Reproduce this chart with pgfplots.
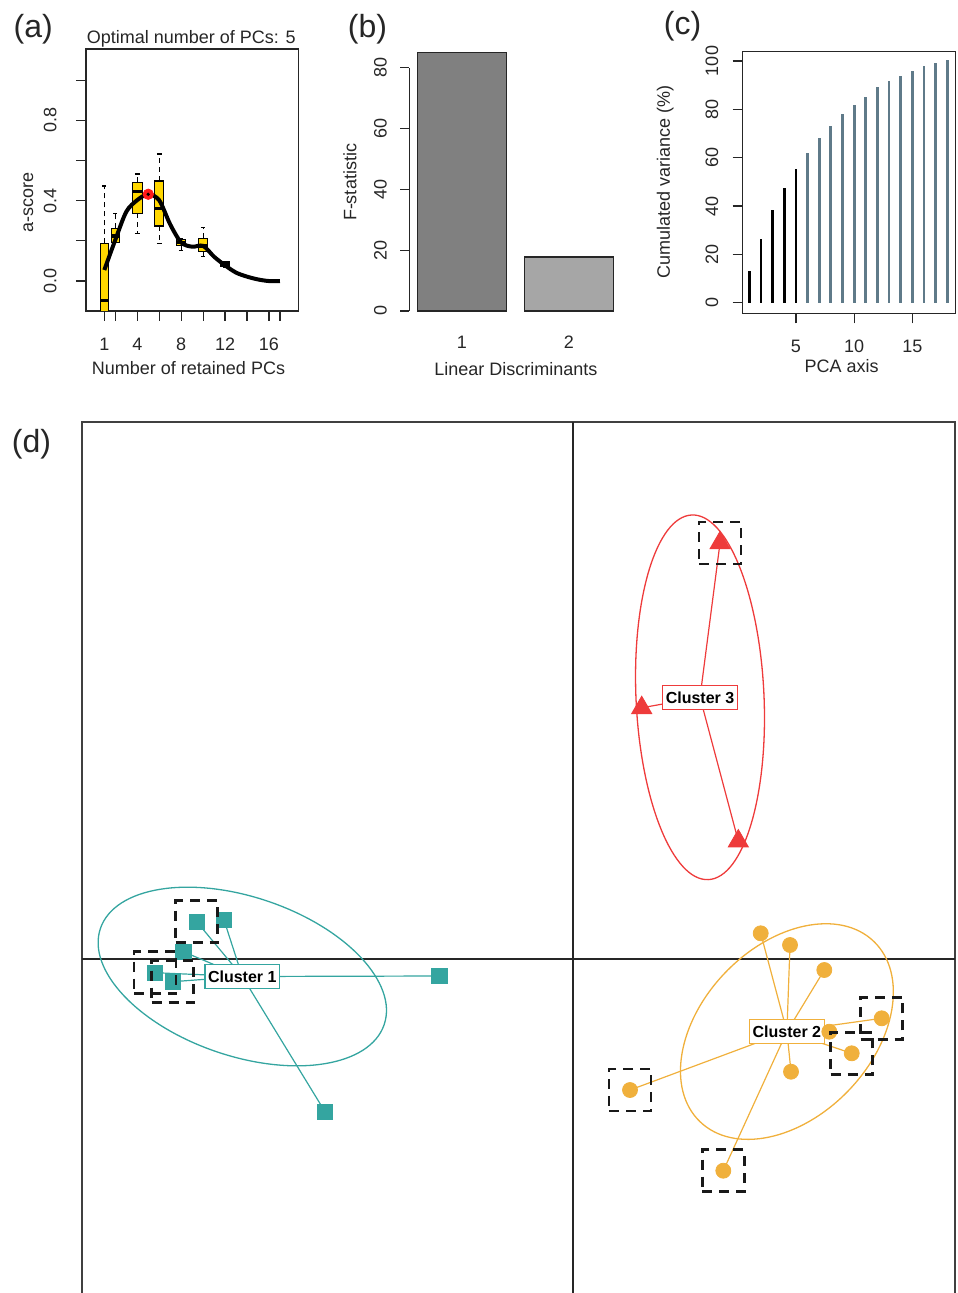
\documentclass[border=0pt]{standalone}
\usepackage{pgfplots}
\pgfplotsset{compat=1.18}
\usepgfplotslibrary{statistics}
\usepackage{fontspec}
\setmainfont{Liberation Sans}
\definecolor{boxgold}{HTML}{FFD700}
\definecolor{cteal}{RGB}{52,165,160}
\definecolor{corange}{RGB}{240,176,60}
\definecolor{cred}{RGB}{238,59,59}
\definecolor{slate}{RGB}{95,122,137}
\definecolor{barA}{RGB}{128,128,128}
\definecolor{barB}{RGB}{166,166,166}
\newcommand{\lab}{\fontsize{9}{10.8}\selectfont}
\newcommand{\pan}{\fontsize{16}{19}\selectfont}
\newcommand{\clu}{\bfseries\fontsize{8}{9.6}\selectfont}

\begin{document}
\begin{tikzpicture}
\path[use as bounding box] (0pt,0pt) rectangle (478.5pt,-646.5pt);

% panel letters
\node[font=\pan, text=black!85] at (16.6pt,-14.6pt) {(a)};
\node[font=\pan, text=black!85] at (183.75pt,-14.6pt) {(b)};
\node[font=\pan, text=black!85] at (341.25pt,-13.35pt) {(c)};
\node[font=\pan, text=black!85] at (15.75pt,-222pt) {(d)};

% axis titles
\node[font=\lab, text=black!85, anchor=base] at (95.6pt,-21.65pt) {Optimal number of PCs: 5};
\node[font=\lab, text=black!85, rotate=90] at (14.15pt,-101.25pt) {a-score};
\node[font=\lab, text=black!85, anchor=base] at (94.25pt,-187.5pt) {Number of retained PCs};
\node[font=\lab, text=black!85, rotate=90] at (175pt,-91.25pt) {F-statistic};
\node[font=\lab, text=black!85, anchor=base] at (257.9pt,-187.85pt) {Linear Discriminants};
\node[font=\lab, text=black!85, rotate=90] at (332.65pt,-90.85pt) {Cumulated variance (\%)};
\node[font=\lab, text=black!85, anchor=base] at (420.85pt,-186.35pt) {PCA axis};

% ---------------- (a)
\begin{axis}[
  at={(43pt,-24.5pt)}, anchor=north west,
  scale only axis, width=106.15pt, height=131pt,
  xmin=-0.67, xmax=18.67, ymin=-0.149, ymax=1.155,
  axis line style={black!85, line width=0.7pt},
  tick pos=left, tick align=outside, major tick length=5pt,
  tick style={black!85, line width=0.6pt},
  xtick={1,2,4,6,8,10,12,14,16,17}, xticklabels={1,,4,,8,,12,,16,},
  ytick={0,0.2,0.4,0.6,0.8,1}, yticklabels={0.0,,0.4,,0.8,},
  ticklabel style={font=\lab, text=black!85},
  xticklabel style={anchor=base, yshift=-14.6pt},
  yticklabel style={xshift=-9.75pt, rotate=90, anchor=base},
  boxplot/draw direction=y,
  boxplot/every whisker/.style={dash pattern=on 2.5pt off 2pt, line width=0.6pt},
  boxplot/every median/.style={line width=1.6pt},
  boxplot/every box/.style={draw=black, fill=boxgold, line width=0.6pt},
]
\addplot[black, boxplot prepared={draw position=1, lower whisker=-0.5, lower quartile=-0.3, median=-0.095, upper quartile=0.188, upper whisker=0.473, box extend=0.7, whisker extend=0.35}] coordinates {};
\addplot[black, boxplot prepared={draw position=2, lower whisker=0.19, lower quartile=0.19, median=0.224, upper quartile=0.262, upper whisker=0.337, box extend=0.75, whisker extend=0.37}] coordinates {};
\addplot[black, boxplot prepared={draw position=4, lower whisker=0.237, lower quartile=0.337, median=0.447, upper quartile=0.491, upper whisker=0.533, box extend=0.9, whisker extend=0.45}] coordinates {};
\addplot[black, boxplot prepared={draw position=6, lower whisker=0.188, lower quartile=0.274, median=0.362, upper quartile=0.498, upper whisker=0.632, box extend=0.85, whisker extend=0.42}] coordinates {};
\addplot[black, boxplot prepared={draw position=8, lower whisker=0.154, lower quartile=0.176, median=0.19, upper quartile=0.207, upper whisker=0.21, box extend=0.8, whisker extend=0.4}] coordinates {};
\addplot[black, boxplot prepared={draw position=10, lower whisker=0.124, lower quartile=0.146, median=0.174, upper quartile=0.213, upper whisker=0.265, box extend=0.85, whisker extend=0.42}] coordinates {};
\addplot[black, boxplot prepared={draw position=12, lower whisker=0.07, lower quartile=0.072, median=0.08, upper quartile=0.095, upper whisker=0.097, box extend=0.75, whisker extend=0.37}] coordinates {};
\addplot[black, line width=2pt, smooth] coordinates {
 (1,0.055) (2,0.205) (3,0.345) (4,0.403) (5,0.432) (6,0.402) (7,0.282) (8,0.192)
 (9,0.171) (10,0.175) (11,0.121) (12,0.078) (13,0.042) (14,0.022) (15,0.008) (16,0.0) (17,0.0)};
\addplot[only marks, mark=*, mark size=2.6pt, mark options={fill=red!90, draw=red!90}] coordinates {(5,0.432)};
\addplot[only marks, mark=*, mark size=0.6pt, mark options={fill=black, draw=black}] coordinates {(5,0.432)};
\end{axis}

% ---------------- (b)
\begin{axis}[
  at={(204.7pt,-33.85pt)}, anchor=north west,
  scale only axis, width=105.9pt, height=121.65pt,
  xmin=0.112, xmax=2.488, ymin=0, ymax=80, clip=false,
  axis y line*=left, axis x line*=bottom,
  axis line style={-},
  x axis line style={draw=none},
  y axis line style={black!85, line width=0.7pt, -},
  tick align=outside, major tick length=4.7pt,
  ytick={0,20,40,60,80}, yticklabels={0,20,40,60,80},
  xtick={0.7,1.9}, xticklabels={1,2},
  xtick style={draw=none}, ytick style={black!85, line width=0.6pt},
  ticklabel style={font=\lab, text=black!85},
  xticklabel style={anchor=base, yshift=-14.2pt},
  yticklabel style={xshift=-6.75pt, rotate=90, anchor=base},
]
\addplot[ybar, bar width=1, bar shift=0pt, fill=barA, draw=black!85, line width=0.6pt] coordinates {(0.7,84.9)};
\addplot[ybar, bar width=1, bar shift=0pt, fill=barB, draw=black!85, line width=0.6pt] coordinates {(1.9,17.75)};
\end{axis}

% ---------------- (c)
\begin{axis}[
  at={(371.35pt,-25.85pt)}, anchor=north west,
  scale only axis, width=106.5pt, height=130.8pt,
  xmin=0.42, xmax=18.73, ymin=-4.39, ymax=103.85,
  axis line style={black!85, line width=0.7pt},
  tick pos=left, tick align=outside, major tick length=5pt,
  tick style={black!85, line width=0.6pt},
  xtick={5,10,15}, xticklabels={5,10,15},
  ytick={0,20,40,60,80,100}, yticklabels={0,20,40,60,80,100},
  ticklabel style={font=\lab, text=black!85},
  xticklabel style={anchor=base, yshift=-14.6pt},
  yticklabel style={xshift=-7.25pt, rotate=90, anchor=base},
]
\addplot[ycomb, black, line width=1.4pt] coordinates {
 (1,13.1) (2,26.3) (3,38.3) (4,47.6) (5,55.2)};
\addplot[ycomb, slate, line width=1.4pt] coordinates {
 (6,62.1) (7,68.0) (8,73.1) (9,77.9) (10,81.8) (11,85.2) (12,89.1)
 (13,91.7) (14,93.9) (15,95.9) (16,97.8) (17,99.3) (18,100.3)};
\end{axis}

% ---------------- (d)
\begin{axis}[
  at={(41pt,-211pt)}, anchor=north west,
  scale only axis, width=436.5pt, height=439pt,
  xmin=-9.82, xmax=7.64, ymin=-6.82, ymax=10.74,
  ticks=none,
  axis line style={black!75, line width=1pt},
]
% crosshair
\addplot[black!85, line width=0.8pt] coordinates {(0,-6.82) (0,10.74)};
\addplot[black!85, line width=0.8pt] coordinates {(-9.82,0) (7.64,0)};
% ellipses
\draw[cteal, line width=0.65pt, rotate around={-18.7:(axis cs:-6.614,-0.35)}] (axis cs:-6.614,-0.35) ellipse [x radius=74.9pt, y radius=39.75pt];
\draw[corange, line width=0.65pt, rotate around={46:(axis cs:4.278,-1.451)}] (axis cs:4.278,-1.451) ellipse [x radius=62.6pt, y radius=42.65pt];
\draw[cred, line width=0.65pt, rotate around={2.6:(axis cs:2.54,5.234)}] (axis cs:2.54,5.234) ellipse [x radius=32pt, y radius=91.25pt];
% points
\addplot[only marks, mark=square*, mark size=3.9pt, mark options={fill=cteal, draw=cteal}] coordinates {
 (-7.526,0.746) (-6.98,0.78) (-7.794,0.146) (-8.36,-0.274) (-8.006,-0.454) (-2.674,-0.34) (-4.96,-3.054)};
\addplot[only marks, mark=*, mark size=3.75pt, mark options={fill=corange, draw=corange}] coordinates {
 (3.754,0.514) (4.34,0.28) (5.026,-0.22) (6.174,-1.186) (5.126,-1.454) (5.574,-1.886) (4.36,-2.254) (1.14,-2.62) (3.006,-4.234)};
\addplot[only marks, mark=triangle*, mark size=5.8pt, mark options={fill=cred, draw=cred}] coordinates {
 (2.94,8.32) (1.374,5.024) (3.306,2.358)};
% spokes cluster 1
\addplot[cteal, line width=0.6pt] coordinates {(-6.614,-0.35) (-7.526,0.746)};
\addplot[cteal, line width=0.6pt] coordinates {(-6.614,-0.35) (-6.98,0.78)};
\addplot[cteal, line width=0.6pt] coordinates {(-6.614,-0.35) (-7.794,0.146)};
\addplot[cteal, line width=0.6pt] coordinates {(-6.614,-0.35) (-8.36,-0.274)};
\addplot[cteal, line width=0.6pt] coordinates {(-6.614,-0.35) (-8.006,-0.454)};
\addplot[cteal, line width=0.6pt] coordinates {(-6.614,-0.35) (-2.674,-0.34)};
\addplot[cteal, line width=0.6pt] coordinates {(-6.614,-0.35) (-4.96,-3.054)};
% spokes cluster 2
\addplot[corange, line width=0.6pt] coordinates {(4.278,-1.451) (3.754,0.514)};
\addplot[corange, line width=0.6pt] coordinates {(4.278,-1.451) (4.34,0.28)};
\addplot[corange, line width=0.6pt] coordinates {(4.278,-1.451) (5.026,-0.22)};
\addplot[corange, line width=0.6pt] coordinates {(4.278,-1.451) (6.174,-1.186)};
\addplot[corange, line width=0.6pt] coordinates {(4.278,-1.451) (5.126,-1.454)};
\addplot[corange, line width=0.6pt] coordinates {(4.278,-1.451) (5.574,-1.886)};
\addplot[corange, line width=0.6pt] coordinates {(4.278,-1.451) (4.36,-2.254)};
\addplot[corange, line width=0.6pt] coordinates {(4.278,-1.451) (1.14,-2.62)};
\addplot[corange, line width=0.6pt] coordinates {(4.278,-1.451) (3.006,-4.234)};
% spokes cluster 3
\addplot[cred, line width=0.6pt] coordinates {(2.54,5.234) (2.94,8.32)};
\addplot[cred, line width=0.6pt] coordinates {(2.54,5.234) (1.374,5.024)};
\addplot[cred, line width=0.6pt] coordinates {(2.54,5.234) (3.306,2.358)};
% labels
\node[draw=cteal, fill=white, line width=0.6pt, font=\clu, inner xsep=1.5pt, inner ysep=3pt] at (axis cs:-6.614,-0.35) {Cluster 1};
\node[draw=corange, fill=white, line width=0.6pt, font=\clu, inner xsep=1.5pt, inner ysep=3pt] at (axis cs:4.278,-1.451) {Cluster 2};
\node[draw=cred, fill=white, line width=0.6pt, font=\clu, inner xsep=1.5pt, inner ysep=3pt] at (axis cs:2.54,5.234) {Cluster 3};
% dashed squares on selected individuals
\addplot[only marks, mark=square, mark size=10.5pt, mark options={draw=black!90, line width=1.4pt, dash pattern=on 5pt off 3.5pt}] coordinates {
 (-7.526,0.746) (-8.36,-0.274) (-8.006,-0.454)
 (6.174,-1.186) (5.574,-1.886) (1.14,-2.62) (3.006,-4.234)
 (2.94,8.32)};
\end{axis}
\end{tikzpicture}
\end{document}
